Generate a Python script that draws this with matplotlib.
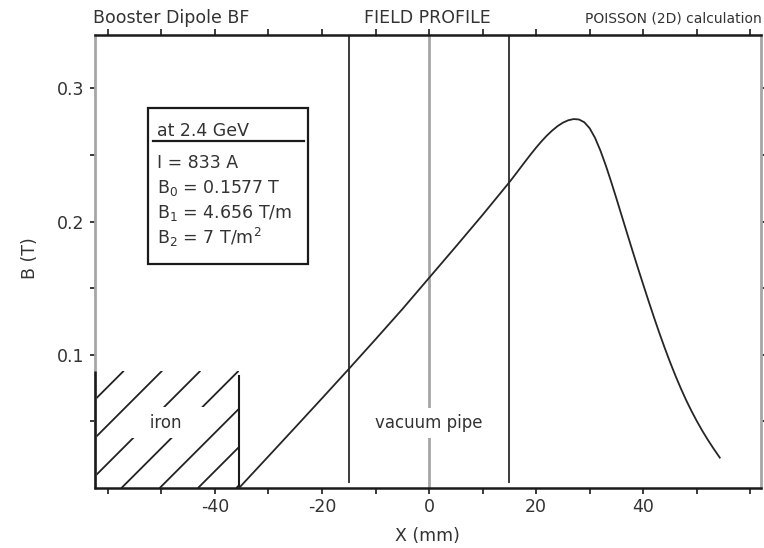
import matplotlib
matplotlib.use("Agg")
import matplotlib.pyplot as plt
from matplotlib.patches import Rectangle

plt.rcParams['font.family'] = ['DejaVu Sans']
plt.rcParams['axes.unicode_minus'] = False
plt.rcParams['mathtext.default'] = 'regular'

# Field on the mid-plane across the gap, B(x)
x_mm = [-35.5, -30, -25, -20, -15, -10, -5, 0, 5, 10, 15, 16, 17, 18, 19, 20,
        21, 22, 23, 24, 25, 26, 27, 28, 29, 30, 31, 32, 33, 34, 35, 36, 37,
        38, 39, 40, 41, 42, 43, 44, 45, 46, 47, 48, 49, 50, 51, 52, 53, 54.3]
b_tesla = [0.0, 0.0238, 0.0455, 0.0673, 0.0893, 0.1116, 0.1342, 0.1577,
           0.1812, 0.2050, 0.2295, 0.2347, 0.2400, 0.2453, 0.2505, 0.2555,
           0.2602, 0.2645, 0.2683, 0.2716, 0.2742, 0.2760, 0.2769, 0.2766,
           0.2745, 0.2700, 0.2628, 0.2533, 0.2422, 0.2300, 0.2172, 0.2041,
           0.1910, 0.1780, 0.1652, 0.1527, 0.1403, 0.1282, 0.1165, 0.1053,
           0.0946, 0.0845, 0.0750, 0.0661, 0.0579, 0.0503, 0.0432, 0.0366,
           0.0304, 0.0228]

# Geometry markers
pipe_edges_mm = [-15, 15]
pipe_centre_mm = 0
iron_edge_mm = -35.5
iron_top_t = 0.088

# Summary box lines
box_title = "at 2.4 GeV"
box_lines = ["I = 833 A",
             "B$_0$ = 0.1577 T",
             "B$_1$ = 4.656 T/m",
             "B$_2$ = 7 T/m$^2$"]

x_major = [-40, -20, 0, 20, 40]
x_minor = [-60, -50, -30, -10, 10, 30, 50, 60]
y_major = [0.1, 0.2, 0.3]
y_minor = [0.05, 0.15, 0.25]

XMIN, XMAX = -62.4, 62.0
YMIN, YMAX = 0.0, 0.340

W, H = 764, 548
fig = plt.figure(figsize=(W / 100, H / 100), dpi=100)
ax_l, ax_r, ax_t, ax_b = 95, 761, 35, 488
ax = fig.add_axes([ax_l / W, 1 - ax_b / H, (ax_r - ax_l) / W, (ax_b - ax_t) / H])
ax.set_xlim(XMIN, XMAX)
ax.set_ylim(YMIN, YMAX)

ink = '#1a1a1a'
grey = '#a6a6a6'
fs = 12.5

# spines
for side in ('top', 'bottom'):
    ax.spines[side].set_color(ink)
    ax.spines[side].set_linewidth(1.8)
for side in ('left', 'right'):
    ax.spines[side].set_color(grey)
    ax.spines[side].set_linewidth(2.0)

# ticks
ax.set_xticks(x_major)
ax.set_xticks(x_minor, minor=True)
ax.set_yticks(y_major)
ax.set_yticks(y_minor, minor=True)
ax.set_xticklabels([str(v) for v in x_major])
ax.set_yticklabels([f"{v:.1f}" for v in y_major])
ax.tick_params(axis='x', which='both', direction='out', length=4, width=1.2,
               color=ink, top=True, bottom=True, labelsize=fs, labelcolor='#333',
               pad=3)
ax.tick_params(axis='y', which='both', direction='out', length=3.5, width=1.2,
               color=ink, left=True, right=True, labelsize=fs, labelcolor='#333',
               pad=4)

# iron pole region with diagonal hatching
px_per_mm = (ax_r - ax_l) / (XMAX - XMIN)
px_per_t = (ax_b - ax_t) / (YMAX - YMIN)
slope = px_per_mm / px_per_t          # 45 degree lines on screen
spacing = 7.15
iron_rect = Rectangle((XMIN, 0), iron_edge_mm - XMIN, iron_top_t,
                      facecolor='none', edgecolor='none')
ax.add_patch(iron_rect)
run = iron_top_t / slope
x0 = -57.46
while x0 - spacing > XMIN - run:
    x0 -= spacing
while x0 < iron_edge_mm:
    ln, = ax.plot([x0, x0 + run], [0, iron_top_t], color='#222', lw=1.3,
                  zorder=2, solid_capstyle='butt')
    ln.set_clip_path(iron_rect)
    x0 += spacing
ax.vlines([XMIN], 0, iron_top_t, color=ink, lw=1.8, zorder=4, clip_on=False)
ax.vlines([iron_edge_mm], 0, iron_top_t - 0.003, color=ink, lw=1.5, zorder=4)
ax.text(-49.2, 0.049, "   iron   ", ha='center', va='center', fontsize=12,
        color='#333', zorder=3,
        bbox=dict(boxstyle='square,pad=0.4', facecolor='white', edgecolor='none'))

# vacuum pipe markers
ax.vlines(pipe_edges_mm, 0.004, YMAX, color=ink, lw=1.2, zorder=2)
ax.vlines([pipe_centre_mm], 0, YMAX, color=grey, lw=2.0, zorder=1)
ax.text(0, 0.0489, "vacuum pipe", ha='center', va='center', fontsize=12,
        color='#333', zorder=3,
        bbox=dict(boxstyle='square,pad=0.35', facecolor='white', edgecolor='none'))

# field profile
ax.plot(x_mm, b_tesla, color='#262626', lw=1.3, zorder=5)

# summary box
bx0, bx1 = (148 - ax_l) / (ax_r - ax_l), (308 - ax_l) / (ax_r - ax_l)
by0, by1 = (ax_b - 264) / (ax_b - ax_t), (ax_b - 108) / (ax_b - ax_t)
ax.add_patch(Rectangle((bx0, by0), bx1 - bx0, by1 - by0, transform=ax.transAxes,
                       facecolor='white', edgecolor=ink, lw=1.6, zorder=6))
ul_y = (ax_b - 141) / (ax_b - ax_t)
ax.plot([(153 - ax_l) / (ax_r - ax_l), (304 - ax_l) / (ax_r - ax_l)], [ul_y, ul_y],
        transform=ax.transAxes, color=ink, lw=1.6, zorder=7)
tx = (157 - ax_l) / (ax_r - ax_l)
ax.text(tx, (ax_b - 131) / (ax_b - ax_t), box_title, transform=ax.transAxes,
        ha='left', va='center', fontsize=fs, color='#333', zorder=7)
for yy, s in zip([163, 188, 213, 237], box_lines):
    ax.text(tx, (ax_b - yy) / (ax_b - ax_t), s, transform=ax.transAxes,
            ha='left', va='center', fontsize=fs, color='#333', zorder=7)

# axis labels
ax.set_xlabel("X (mm)", fontsize=fs, color='#333')
ax.xaxis.set_label_coords((427 - ax_l) / (ax_r - ax_l), (ax_b - 536) / (ax_b - ax_t))
ax.xaxis.label.set_va('center')
ax.set_ylabel("B (T)", fontsize=fs, color='#333')
ax.yaxis.set_label_coords((30 - ax_l) / (ax_r - ax_l), (ax_b - 258) / (ax_b - ax_t))
ax.yaxis.label.set_va('center')
ax.yaxis.label.set_ha('center')

# header line
fig.text(93 / W, 1 - 18 / H, "Booster Dipole BF", ha='left', va='center',
         fontsize=fs, color='#333')
fig.text(427 / W, 1 - 18 / H, "FIELD PROFILE", ha='center', va='center',
         fontsize=fs, color='#333')
fig.text(762 / W, 1 - 19 / H, "POISSON (2D) calculation", ha='right', va='center',
         fontsize=10, color='#333')

fig.savefig("out.png", dpi=100)
